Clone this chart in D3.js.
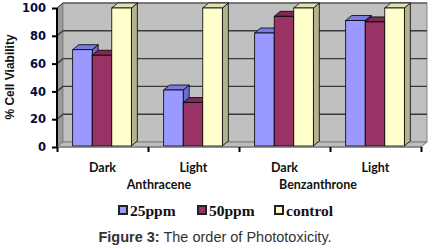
<!DOCTYPE html>
<html><head><meta charset="utf-8">
<script src="https://cdn.jsdelivr.net/npm/d3@7"></script>
<style>body{margin:0;background:#fff}svg{display:block}</style>
</head><body>
<svg id="c" width="435" height="249"></svg>
<script>
const categories = ["Dark", "Light", "Dark", "Light"];
const groups = [{label: "Anthracene", x: 159}, {label: "Benzanthrone", x: 318}];
const series = ["25ppm", "50ppm", "control"];
const values25 = [70, 41, 82, 91];
const values50 = [66, 32, 94, 90];
const valuesCtrl = [100, 100, 100, 100];
const yTicks = [0, 20, 40, 60, 80, 100];

const colors = {"25ppm": "#9999FF", "50ppm": "#993366", "control": "#FFFFCC"};
const sideColors = {"25ppm": "#6B6BC8", "50ppm": "#6B2347", "control": "#B3B38F"};
const topColors = {"25ppm": "#7A7AE0", "50ppm": "#7E2A55", "control": "#E0E0B5"};

const svg = d3.select("#c");
const left = 57, right = 421, y0 = 147, y100 = 8;
const dx = 6, dy = -5;
const y = d3.scaleLinear().domain([0, 100]).range([y0, y100]);
const idx = categories.map((c, i) => i);
const x = d3.scaleBand().domain(idx).range([left, right]).paddingInner(0).paddingOuter(0);
const xs = d3.scaleBand().domain(series).range([0, x.bandwidth() - 1]).paddingInner(0).paddingOuter(0.8);

const data = idx.map(i => ({i, vals: [values25[i], values50[i], valuesCtrl[i]]}));

// left wall
svg.append("path")
  .attr("d", `M${left},${y0}L${left+dx},${y0+dy}L${left+dx},${y100+dy}L${left},${y100}Z`)
  .attr("fill", "#9A9A9A").attr("stroke", "#666").attr("stroke-width", 0.8);
// back wall
svg.append("rect").attr("x", left+dx).attr("y", y100+dy)
  .attr("width", right - left).attr("height", y0 - y100)
  .attr("fill", "#C0C0C0").attr("stroke", "#888").attr("stroke-width", 1);
// floor
svg.append("path")
  .attr("d", `M${left},${y0}L${left+dx},${y0+dy}L${right+dx},${y0+dy}L${right},${y0}Z`)
  .attr("fill", "#BDBDBD").attr("stroke", "#7a7a7a").attr("stroke-width", 1);
// gridlines
const grid = svg.append("g");
yTicks.filter(t => t > 0).forEach(t => {
  grid.append("path")
    .attr("d", `M${left},${y(t)}L${left+dx},${y(t)+dy}L${right+dx},${y(t)+dy}`)
    .attr("fill", "none").attr("stroke", "#3a3a3a").attr("stroke-width", t === 100 ? 1 : 1.4);
});

// bars
const bars = svg.append("g");
data.forEach(d => {
  series.forEach((s, k) => {
    const v = d.vals[k];
    const bx = x(d.i) + xs(s), bw = xs.bandwidth();
    const top = y(v), bot = y(0) - 1;
    bars.append("path")
      .attr("d", `M${bx+bw},${bot}L${bx+bw+dx},${bot+dy}L${bx+bw+dx},${top+dy}L${bx+bw},${top}Z`)
      .attr("fill", sideColors[s]).attr("stroke", "#000").attr("stroke-width", 0.8).attr("stroke-linejoin", "round");
    bars.append("path")
      .attr("d", `M${bx},${top}L${bx+dx},${top+dy}L${bx+bw+dx},${top+dy}L${bx+bw},${top}Z`)
      .attr("fill", topColors[s]).attr("stroke", "#000").attr("stroke-width", 0.8).attr("stroke-linejoin", "round");
    bars.append("rect").attr("x", bx).attr("y", top).attr("width", bw).attr("height", bot - top)
      .attr("fill", colors[s]).attr("stroke", "#000").attr("stroke-width", 0.8);
  });
});

// y axis
const yAxis = svg.append("g").attr("transform", `translate(${left},0)`)
  .call(d3.axisLeft(y).tickValues(yTicks).tickSize(5).tickPadding(6));
yAxis.select(".domain").attr("stroke", "#000").attr("stroke-width", 2).attr("d", `M0,${y0}V${y100}`);
yAxis.selectAll(".tick line").attr("stroke", "#000").attr("stroke-width", 2);
yAxis.selectAll(".tick text").attr("fill", "#0a0a3a")
  .style("font-family", "'DejaVu Sans', Verdana, sans-serif").style("font-weight", "bold").style("font-size", "11.5px");

// x axis ticks at boundaries
const xb = d3.scaleLinear().domain([0, categories.length]).range([left, right]);
const xAxis = svg.append("g").attr("transform", `translate(0,${y0})`)
  .call(d3.axisBottom(xb).tickValues(d3.range(categories.length + 1)).tickSize(5).tickFormat(""));
xAxis.select(".domain").attr("stroke", "#6f6f6f").attr("stroke-width", 1).attr("d", `M${left},0H${right}`);
xAxis.selectAll(".tick line").attr("stroke", "#000").attr("stroke-width", 2);

// category labels
const lblFont = "Lato, 'Open Sans', sans-serif";
svg.append("g").selectAll("text").data(idx).join("text")
  .attr("x", i => x(i) + x.bandwidth() / 2).attr("y", 172)
  .attr("text-anchor", "middle").attr("fill", "#111")
  .style("font-family", lblFont).style("font-weight", "bold").style("font-size", "12.5px")
  .text(i => categories[i]);
svg.append("g").selectAll("text").data(groups).join("text")
  .attr("x", g => g.x).attr("y", 189)
  .attr("text-anchor", "middle").attr("fill", "#111")
  .style("font-family", lblFont).style("font-weight", "bold").style("font-size", "12.5px")
  .text(g => g.label);

// y title
svg.append("text").attr("transform", "translate(14,77) rotate(-90)")
  .attr("text-anchor", "middle").attr("fill", "#111")
  .style("font-family", "'Liberation Sans', Arial, sans-serif").style("font-weight", "bold").style("font-size", "12px")
  .text("% Cell Viability");

// legend
const legX = [118, 197, 274];
const leg = svg.append("g");
series.forEach((s, k) => {
  leg.append("rect").attr("x", legX[k] + 1).attr("y", 206).attr("width", 8).attr("height", 8)
    .attr("fill", colors[s]).attr("stroke", "#222").attr("stroke-width", 2);
  leg.append("text").attr("x", legX[k] + 12).attr("y", 215.5)
    .attr("fill", "#111")
    .style("font-family", "'Liberation Serif', 'Times New Roman', serif").style("font-weight", "bold").style("font-size", "15.5px")
    .text(s);
});

// caption
const cap = svg.append("text").attr("x", 215).attr("y", 242).attr("text-anchor", "middle")
  .attr("fill", "#333").style("font-family", "'Liberation Sans', Arial, sans-serif").style("font-size", "14.5px");
cap.append("tspan").style("font-weight", "bold").text("Figure 3:");
cap.append("tspan").text(" The order of Phototoxicity.");
</script>
</body></html>
